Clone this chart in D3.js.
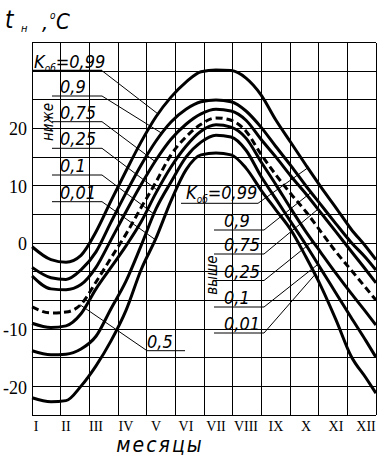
<!DOCTYPE html>
<html>
<head>
<meta charset="utf-8">
<title>Температура наружного воздуха</title>
<script src="https://d3js.org/d3.v7.min.js"></script>
<style>
  body { margin: 0; background: #fff; }
  .cad { font-family: "DejaVu Sans Condensed", "Liberation Sans Narrow", "DejaVu Sans", sans-serif; font-style: italic; font-weight: 200; fill: #000; }
  .serif { font-family: "Liberation Serif", "DejaVu Serif", serif; fill: #000; }
</style>
</head>
<body>
<svg id="chart" width="384" height="464"></svg>
<script>
// month labels
const monthNames = ["I", "II", "III", "IV", "V", "VI", "VII", "VIII", "IX", "X", "XI", "XII"];
// y tick labels
const tempTicks = [-20, -10, 0, 10, 20];

// points where the curves were read, in months
const sampleMonths = [0.87, 1.5, 2, 2.5, 3, 3.5, 4, 4.5, 5, 5.5, 6, 6.5, 7, 7.5, 8, 8.5, 9, 9.5, 10, 10.5, 11, 11.5, 12, 12.33];

// outdoor temperature, °C, for each probability K_об
const k099 = [-0.4, -1.9, -2.2, -1.4, 2.0, 7.4, 12.6, 17.6, 22.0, 25.4, 28.0, 29.8, 30.1, 30.0, 28.7, 25.8, 21.4, 17.5, 13.6, 9.8, 6.2, 2.5, -0.4, -1.9];
const k09 = [-2.8, -4.0, -4.2, -3.1, -1.0, 3.7, 8.8, 13.6, 17.8, 21.1, 23.3, 24.6, 24.9, 24.6, 23.0, 20.2, 16.8, 13.5, 10.0, 6.7, 3.4, 0.2, -1.7, -3.1];
const k075 = [-3.8, -5.3, -5.4, -4.8, -2.8, 0.6, 5.5, 10.2, 14.5, 18.1, 20.7, 22.5, 23.3, 23.0, 21.4, 18.1, 15.0, 11.7, 8.6, 5.3, 2.0, -0.9, -3.1, -4.6];
const k05 = [-7.4, -8.1, -8.0, -7.1, -4.5, -1.7, 1.6, 6.2, 10.7, 15.4, 18.5, 20.7, 21.8, 21.4, 19.5, 15.5, 11.9, 8.6, 5.5, 2.0, -1.0, -3.1, -5.2, -6.6];
const k025 = [-9.3, -9.8, -9.6, -8.2, -5.3, -2.8, -0.3, 3.7, 8.8, 13.3, 16.9, 19.5, 20.6, 20.2, 18.3, 14.2, 10.2, 6.0, 2.0, -1.1, -3.5, -5.8, -8.0, -9.5];
const k01 = [-13.7, -14.4, -14.3, -13.4, -11.2, -7.6, -4.4, -0.3, 6.0, 10.7, 15.0, 17.6, 18.8, 18.5, 16.2, 11.7, 7.7, 3.7, -0.2, -3.0, -5.8, -8.6, -12.0, -14.8];
const k001 = [-21.8, -22.5, -22.3, -19.8, -16.3, -12.0, -7.8, -3.1, 0.9, 7.4, 12.8, 15.4, 15.7, 15.4, 13.1, 9.3, 5.8, 2.3, -1.6, -5.0, -8.9, -14.6, -18.4, -21.0];

const series = [
  { k: "0,99", values: k099 },
  { k: "0,9", values: k09 },
  { k: "0,75", values: k075 },
  { k: "0,5", values: k05, dashed: true },
  { k: "0,25", values: k025 },
  { k: "0,1", values: k01 },
  { k: "0,01", values: k001 }
];

const svg = d3.select("#chart");

// frame of the plot
const plotL = 32, plotR = 376, plotT = 42.7, plotB = 415;

const x = d3.scaleLinear().domain([1, 12]).range([36, 366]);
// the original axis is not uniform below zero
const y = d3.scaleLinear()
  .domain([-20, -10, 0, 10, 20])
  .range([387.3, 329.3, 243.3, 186, 128.3]);

// grid: 12 x 13 squares
const gx = d3.scaleLinear().domain([0, 12]).range([plotL, plotR]);
const gy = d3.scaleLinear().domain([0, 13]).range([plotB, plotT]);

const grid = svg.append("g").attr("stroke", "#000").attr("stroke-width", 1).attr("shape-rendering", "crispEdges");
grid.selectAll(".v").data(d3.range(13)).join("line").attr("class", "v")
  .attr("x1", d => gx(d)).attr("x2", d => gx(d))
  .attr("y1", plotT).attr("y2", plotB);
grid.selectAll(".h").data(d3.range(14)).join("line").attr("class", "h")
  .attr("x1", plotL).attr("x2", plotR)
  .attr("y1", d => gy(d)).attr("y2", d => gy(d));

// curves
const line = d3.line()
  .x((d, i) => x(sampleMonths[i]))
  .y(d => y(d))
  .curve(d3.curveMonotoneX);

svg.append("g").selectAll("path").data(series).join("path")
  .attr("d", d => line(d.values))
  .attr("fill", "none")
  .attr("stroke", "#000")
  .attr("stroke-width", 3)
  .attr("stroke-dasharray", d => d.dashed ? "7,4" : null);

// point on a curve at month m
function curveAt(values, m) {
  const i = Math.min(sampleMonths.length - 1, Math.max(1, d3.bisect(sampleMonths, m)));
  const m0 = sampleMonths[i - 1], m1 = sampleMonths[i];
  const t = (m - m0) / (m1 - m0);
  return [x(m), y(values[i - 1] + t * (values[i] - values[i - 1]))];
}

// y axis labels
svg.append("g").selectAll("text").data(tempTicks).join("text")
  .attr("class", "serif")
  .attr("x", 27)
  .attr("y", d => y(d) + 7)
  .attr("text-anchor", "end")
  .attr("font-size", 18)
  .text(d => d);

// month labels
svg.append("g").selectAll("text").data(monthNames).join("text")
  .attr("class", "serif")
  .attr("x", (d, i) => x(i + 1))
  .attr("y", 431)
  .attr("text-anchor", "middle")
  .attr("font-size", 14)
  .text(d => d);

svg.append("text").attr("class", "cad")
  .attr("x", 160).attr("y", 452)
  .attr("text-anchor", "middle")
  .attr("font-size", 21)
  .attr("letter-spacing", 2)
  .text("месяцы");

// axis title t_н ,°C
const title = svg.append("g").attr("class", "cad");
title.append("text").attr("x", 5).attr("y", 28).attr("font-size", 24).text("t");
title.append("text").attr("x", 21).attr("y", 32).attr("font-size", 11).text("н");
title.append("text").attr("x", 42).attr("y", 30).attr("font-size", 22).text(",");
title.append("text").attr("x", 50).attr("y", 19).attr("font-size", 10).text("o");
title.append("text").attr("x", 56).attr("y", 29).attr("font-size", 22).text("C");

// labels with leaders
const ann = svg.append("g");

function label(tx, ty, ux1, ux2, uy, k, withK, thick) {
  const t = ann.append("text").attr("class", "cad").attr("x", tx).attr("y", ty).attr("font-size", 18);
  if (withK) {
    t.append("tspan").text("K");
    t.append("tspan").attr("font-size", 10).attr("dy", 4).text("об");
    t.append("tspan").attr("dy", -4).text("=" + k);
  } else {
    t.text(k);
  }
  ann.append("line").attr("x1", ux1).attr("x2", ux2).attr("y1", uy).attr("y2", uy)
    .attr("stroke", "#000").attr("stroke-width", thick ? 2 : 1);
}

function leader(x0, y0, s, m) {
  const p = curveAt(series.find(d => d.k === s).values, m);
  ann.append("line").attr("x1", x0).attr("y1", y0).attr("x2", p[0]).attr("y2", p[1])
    .attr("stroke", "#000").attr("stroke-width", 1);
}

// left group ("ниже")
const leftLabels = [
  { k: "0,99", uy: 70.7, m: 5.07 },
  { k: "0,9", uy: 96, m: 5.2 },
  { k: "0,75", uy: 121.7, m: 4.97 },
  { k: "0,25", uy: 148.3, m: 5.05 },
  { k: "0,1", uy: 175, m: 4.93 },
  { k: "0,01", uy: 201.7, m: 4.97 }
];
leftLabels.forEach((d, i) => {
  if (i === 0) label(34, d.uy - 3, 32, 102, d.uy, d.k, true, true);
  else label(60, d.uy - 3, 52, 102, d.uy, d.k, false, false);
  leader(102, d.uy, d.k, d.m);
});

// right group ("выше")
const rightLabels = [
  { k: "0,99", uy: 203.3, m: 10.06 },
  { k: "0,9", uy: 230, m: 10.17 },
  { k: "0,75", uy: 254, m: 10.4 },
  { k: "0,25", uy: 280.5, m: 10.25 },
  { k: "0,1", uy: 307, m: 10.4 },
  { k: "0,01", uy: 333, m: 10.3 }
];
rightLabels.forEach((d, i) => {
  if (i === 0) {
    label(186, d.uy - 4, 181, 258, d.uy, d.k, true, false);
    leader(258, d.uy, d.k, d.m);
  } else {
    label(224, d.uy - 3, 214, 264, d.uy, d.k, false, false);
    leader(264, d.uy, d.k, d.m);
  }
});

// median curve label
label(147, 348, 147, 185, 350.7, "0,5", false, false);
leader(147, 350.7, "0,5", 2.47);

// group captions
ann.append("text").attr("class", "cad").attr("font-size", 15)
  .attr("transform", "translate(53,122) rotate(-90)")
  .attr("text-anchor", "middle").text("ниже");
ann.append("text").attr("class", "cad").attr("font-size", 15)
  .attr("transform", "translate(217,275) rotate(-90)")
  .attr("text-anchor", "middle").text("выше");
</script>
</body>
</html>
